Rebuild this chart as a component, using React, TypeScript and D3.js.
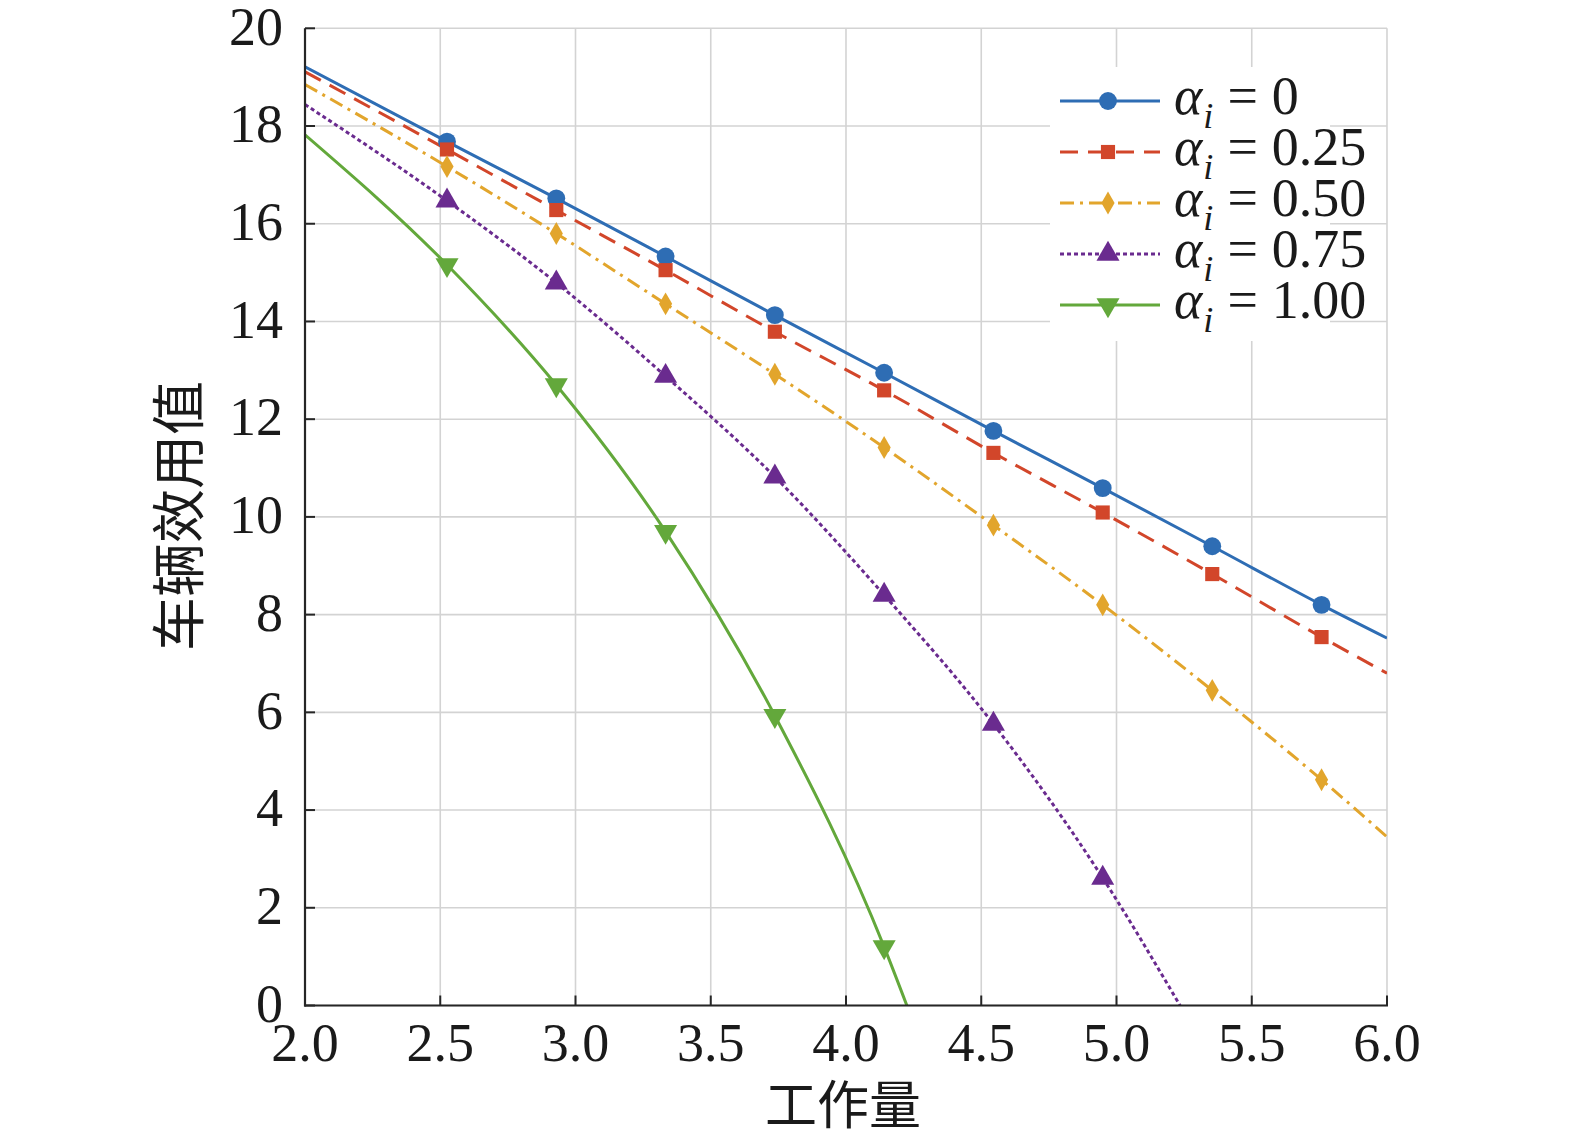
import React from "react";
import * as d3 from "d3";

// ---------- data ----------
const xTicks = [2.0, 2.5, 3.0, 3.5, 4.0, 4.5, 5.0, 5.5, 6.0];
const yTicks = [0, 2, 4, 6, 8, 10, 12, 14, 16, 18, 20];
const seriesLabels = ["0", "0.25", "0.50", "0.75", "1.00"];
const xTitle = "工作量";
const yTitle = "车辆效用值";

const lineStartX = 2.0;
const markerX = [2.525, 2.929, 3.333, 3.737, 4.141, 4.545, 4.949, 5.354, 5.758];

const startY = [19.21, 19.11, 18.85, 18.44, 17.82];
const markerY_a0 = [17.68, 16.52, 15.33, 14.13, 12.95, 11.76, 10.59, 9.4, 8.2];
const markerY_a25 = [17.52, 16.28, 15.05, 13.79, 12.59, 11.31, 10.09, 8.83, 7.54];
const markerY_a50 = [17.17, 15.8, 14.36, 12.92, 11.42, 9.83, 8.2, 6.45, 4.62];
const markerY_a75 = [16.47, 14.79, 12.88, 10.82, 8.4, 5.76, 2.61];
const markerY_a100 = [15.16, 12.7, 9.7, 5.93, 1.2];
const endX = [6.0, 6.0, 6.0, 5.235, 4.225];
const endY = [7.52, 6.8, 3.45, 0, 0];

// ---------- styles ----------
const colors = ["#2e6db4", "#d2462a", "#e2a52c", "#6a2b8f", "#63a83b"];
const dashes = ["none", "18 10", "14 6 3 6", "4 3", "none"];
const symbols = [
  d3.symbolCircle,
  d3.symbolSquare,
  d3.symbolDiamond,
  d3.symbolTriangle,
  d3.symbolTriangle,
];
const symbolSizes = [250, 200, 150, 230, 230];
const symbolRot = [0, 0, 0, 0, 180];

const W = 1575;
const H = 1146;
const x = d3.scaleLinear().domain([2, 6]).range([305, 1387]);
const y = d3.scaleLinear().domain([0, 20]).range([1005.5, 28.3]);

const serif = "'Liberation Serif', 'Times New Roman', serif";
const cjk = "'Noto Sans CJK SC', sans-serif";

export default function App() {
  const markerYs = [markerY_a0, markerY_a25, markerY_a50, markerY_a75, markerY_a100];
  const series = markerYs.map((my, i) => {
    const pts: [number, number][] = [[lineStartX, startY[i]]];
    my.forEach((v, k) => pts.push([markerX[k], v]));
    pts.push([endX[i], endY[i]]);
    const marks: [number, number][] = my.map((v, k) => [markerX[k], v]);
    return { pts, marks };
  });
  const line = d3
    .line<[number, number]>()
    .x((d) => x(d[0]))
    .y((d) => y(d[1]))
    .curve(d3.curveMonotoneX);

  const [x0, x1] = x.range();
  const [y0, y1] = y.range();

  const legendRows = [101, 152, 203, 254, 305];

  return (
    <svg
      width={W}
      height={H}
      style={{ position: "absolute", left: 0, top: 0, background: "#fff" }}
    >
      <defs>
        <clipPath id="plot">
          <rect x={x0} y={y1 - 2} width={x1 - x0} height={y0 - y1 + 2} />
        </clipPath>
      </defs>
      <rect width={W} height={H} fill="#fff" />
      {/* grid */}
      {xTicks.map((t) => (
        <line key={"gx" + t} x1={x(t)} x2={x(t)} y1={y1} y2={y0} stroke="#d3d3d3" strokeWidth={1.6} />
      ))}
      {yTicks.map((t) => (
        <line key={"gy" + t} x1={x0} x2={x1} y1={y(t)} y2={y(t)} stroke="#d3d3d3" strokeWidth={1.6} />
      ))}
      {/* legend background */}
      <rect x={1050} y={67} width={280} height={274} fill="#fff" />

      {/* series */}
      <g clipPath="url(#plot)">
        {series.map((s, i) => (
          <path
            key={"l" + i}
            d={line(s.pts) || ""}
            fill="none"
            stroke={colors[i]}
            strokeWidth={3}
            strokeDasharray={dashes[i]}
          />
        ))}
      </g>
      {series.map((s, i) =>
        s.marks.map((m, k) => (
          <path
            key={"m" + i + "-" + k}
            d={d3.symbol().type(symbols[i]).size(symbolSizes[i])() || ""}
            transform={`translate(${x(m[0])},${y(m[1])}) rotate(${symbolRot[i]})`}
            fill={colors[i]}
          />
        ))
      )}

      {/* axes */}
      <line x1={x0} x2={x0} y1={y1} y2={y0 + 1} stroke="#262626" strokeWidth={2.2} />
      <line x1={x0 - 1} x2={x1 + 1} y1={y0} y2={y0} stroke="#262626" strokeWidth={2.2} />
      {xTicks.map((t) => (
        <line key={"tx" + t} x1={x(t)} x2={x(t)} y1={y0} y2={y0 - 10} stroke="#262626" strokeWidth={2} />
      ))}
      {yTicks.map((t) => (
        <line key={"ty" + t} x1={x0} x2={x0 + 10} y1={y(t)} y2={y(t)} stroke="#262626" strokeWidth={2} />
      ))}
      {/* tick labels */}
      {yTicks.map((t) => (
        <text
          key={"ly" + t}
          x={283}
          y={y(t)}
          dy="0.3em"
          textAnchor="end"
          fontFamily={serif}
          fontSize={54}
          fill="#1a1a1a"
        >
          {t}
        </text>
      ))}
      {xTicks.map((t) => (
        <text
          key={"lx" + t}
          x={x(t)}
          y={1061}
          textAnchor="middle"
          fontFamily={serif}
          fontSize={54}
          fill="#1a1a1a"
        >
          {t.toFixed(1)}
        </text>
      ))}
      {/* titles */}
      <text x={843} y={1124} textAnchor="middle" fontFamily={cjk} fontSize={52} fill="#1a1a1a">
        {xTitle}
      </text>
      <text
        transform="translate(199,516) rotate(-90)"
        textAnchor="middle"
        fontFamily={cjk}
        fontSize={54}
        fill="#1a1a1a"
      >
        {yTitle}
      </text>

      {/* legend */}
      {seriesLabels.map((lab, i) => {
        const ry = legendRows[i];
        return (
          <g key={"lg" + i}>
            <line
              x1={1060}
              x2={1160}
              y1={ry}
              y2={ry}
              stroke={colors[i]}
              strokeWidth={3}
              strokeDasharray={dashes[i]}
            />
            <path
              d={d3.symbol().type(symbols[i]).size(symbolSizes[i])() || ""}
              transform={`translate(1108,${ry}) rotate(${symbolRot[i]})`}
              fill={colors[i]}
            />
            <text x={1174} y={ry + 13} fontFamily={serif} fontSize={54} fill="#1a1a1a">
              <tspan fontStyle="italic">α</tspan>
              <tspan fontStyle="italic" fontSize={36} dy={14} dx={1}>
                i
              </tspan>
              <tspan dy={-14} dx={14}>
                =
              </tspan>
              <tspan dx={14}>{lab}</tspan>
            </text>
          </g>
        );
      })}
    </svg>
  );
}
